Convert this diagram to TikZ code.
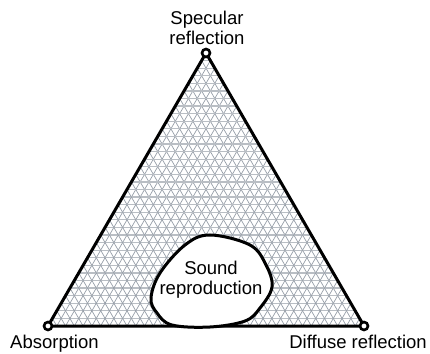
\documentclass[tikz,border=0pt]{standalone}
\usepackage{fontspec}
\setmainfont{Liberation Sans}
\usetikzlibrary{calc}
\definecolor{gridgray}{RGB}{150,158,168}
\definecolor{hgray}{RGB}{185,190,196}

\begin{document}
\begin{tikzpicture}[x=1pt,y=1pt,
  txt/.style={font=\fontsize{18.5}{20}\selectfont, inner sep=0pt},
  gridline/.style={gridgray, line width=0.7pt},
  hline/.style={hgray, line width=1.3pt},
  vertex/.style={circle, draw, fill=white, line width=2.6pt, minimum size=8pt, inner sep=0pt}]
  \useasboundingbox (0,0) rectangle (430,353);
  % 三角形の頂点
  \coordinate (A) at (48,27);
  \coordinate (B) at (364,27);
  \coordinate (C) at (206,300);

  % 網目
  \foreach \i in {1,...,35} {
    \draw[hline] ($(A)!\i/36!(C)$) -- ($(B)!\i/36!(C)$);
    \draw[gridline] ($(A)!\i/36!(B)$) -- ($(C)!\i/36!(B)$);
    \draw[gridline] ($(B)!\i/36!(A)$) -- ($(C)!\i/36!(A)$);
  }

  % 三角形
  \draw[line width=3pt, line join=round] (A) -- (B) -- (C) -- cycle;

  % 再生領域
  \draw[line width=3pt, fill=white] plot[smooth cycle, tension=0.6] coordinates {
    (210,118) (250,108) (266,88) (272,66) (260,45) (245,32) (210,26)
    (172,28) (157,40) (151,55) (160,80) (185,108)};
  \node[txt, align=center] (sound) at (211,73) {Sound\\reproduction};

  % 頂点の丸
  \node[vertex] (absorb) at (A) {};
  \node[vertex] (diffuse) at (B) {};
  \node[vertex] (specular) at (C) {};

  % ラベル
  \node[txt, align=center, anchor=south] (specl) at (207,308) {Specular\\reflection};
  \node[txt, anchor=base west] (absl) at (10,5) {Absorption};
  \node[txt, anchor=base east] (diffl) at (427,5) {Diffuse reflection};
\end{tikzpicture}
\end{document}
